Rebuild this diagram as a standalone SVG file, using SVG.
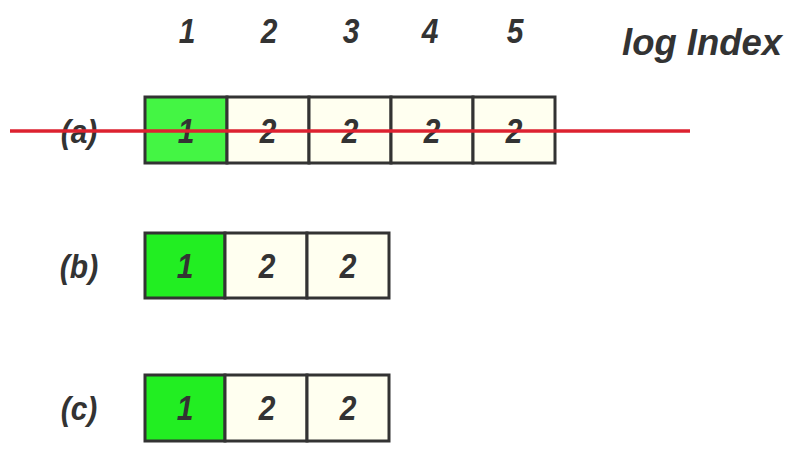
<svg xmlns="http://www.w3.org/2000/svg" width="804" height="454" viewBox="0 0 804 454">
<style>
text{font-family:"Liberation Sans",Arial,sans-serif;font-style:italic;font-weight:bold;fill:#333;text-anchor:middle;dominant-baseline:central;font-size:30px}
.g1{fill:#44f544;stroke:#333;stroke-width:3}
.g2{fill:#22ee22;stroke:#333;stroke-width:3}
.c{fill:#fffff0;stroke:#333;stroke-width:3}
</style>
<rect width="804" height="454" fill="#fff"/>
<g id="header">
<text transform="translate(187,31) scale(1,1.15)">1</text>
<text transform="translate(269,31) scale(1,1.15)">2</text>
<text transform="translate(351,31) scale(1,1.15)">3</text>
<text transform="translate(430,31) scale(1,1.15)">4</text>
<text transform="translate(515,31) scale(1,1.15)">5</text>
<text transform="translate(702,42) scale(1,1.15)" style="font-size:32px" textLength="160" lengthAdjust="spacingAndGlyphs">log Index</text>
</g>
<g id="row-a">
<text transform="translate(79,131) scale(1,1.12)">(a)</text>
<rect class="g1" x="145" y="97" width="82" height="66"/>
<rect class="c" x="227" y="97" width="82" height="66"/>
<rect class="c" x="309" y="97" width="82" height="66"/>
<rect class="c" x="391" y="97" width="82" height="66"/>
<rect class="c" x="473" y="97" width="82" height="66"/>
<text transform="translate(186,131) scale(1,1.15)">1</text>
<text transform="translate(268,131) scale(1,1.15)">2</text>
<text transform="translate(350,131) scale(1,1.15)">2</text>
<text transform="translate(432,131) scale(1,1.15)">2</text>
<text transform="translate(514,131) scale(1,1.15)">2</text>
</g>
<g id="row-b">
<text transform="translate(79,266) scale(1,1.12)">(b)</text>
<rect class="g2" x="145" y="233" width="80" height="65"/>
<rect class="c" x="225" y="233" width="82" height="65"/>
<rect class="c" x="307" y="233" width="82" height="65"/>
<text transform="translate(185,266) scale(1,1.15)">1</text>
<text transform="translate(267,266) scale(1,1.15)">2</text>
<text transform="translate(348,266) scale(1,1.15)">2</text>
</g>
<g id="row-c">
<text transform="translate(79,408) scale(1,1.12)">(c)</text>
<rect class="g2" x="145" y="375" width="80" height="66"/>
<rect class="c" x="225" y="375" width="82" height="66"/>
<rect class="c" x="307" y="375" width="82" height="66"/>
<text transform="translate(185,408) scale(1,1.15)">1</text>
<text transform="translate(267,408) scale(1,1.15)">2</text>
<text transform="translate(348,408) scale(1,1.15)">2</text>
</g>
<g id="connectors">
<line x1="10" y1="131" x2="690" y2="131" stroke="#dd2230" stroke-width="3.5"/>
</g>
</svg>
